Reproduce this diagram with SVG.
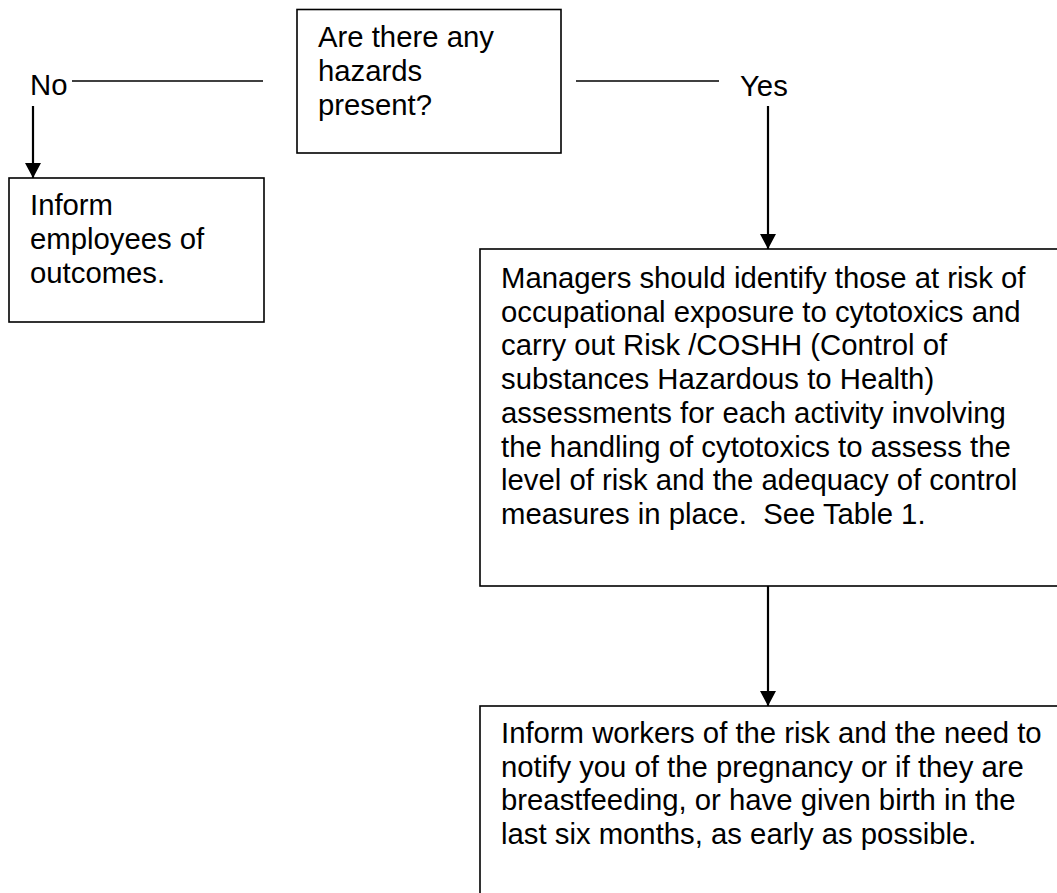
<svg xmlns="http://www.w3.org/2000/svg" width="1057" height="893" viewBox="0 0 1057 893">
<style>
.box{fill:#fff;stroke:#000;stroke-width:1.6}
.t{font-family:"Liberation Sans",Arial,sans-serif;font-size:29.3px;fill:#000}
.arrow{stroke:#000;stroke-width:2.2;fill:none;marker-end:url(#ah)}
.line{stroke:#000;stroke-width:1.4;fill:none}
</style>
<defs>
<marker id="ah" markerUnits="userSpaceOnUse" viewBox="0 0 15 16" refX="15" refY="8" markerWidth="15" markerHeight="16" orient="auto">
<path d="M0,0 L15,8 L0,16 z" fill="#000"/>
</marker>
</defs>
<rect width="1057" height="893" fill="#fff"/>
<g id="connectors">
<line class="line" x1="72" y1="81" x2="263" y2="81"/>
<line class="line" x1="576" y1="81" x2="719" y2="81"/>
<line class="arrow" x1="33" y1="106" x2="33" y2="178"/>
<line class="arrow" x1="768" y1="106" x2="768" y2="249"/>
<line class="arrow" x1="768" y1="586" x2="768" y2="706"/>
<text class="t" x="30" y="95">No</text>
<text class="t" x="740" y="96">Yes</text>
</g>
<g id="question">
<rect class="box" x="297" y="9.5" width="264" height="143.5"/>
<text class="t"><tspan x="318" y="47">Are there any</tspan><tspan x="318" y="81">hazards</tspan><tspan x="318" y="115">present?</tspan></text>
</g>
<g id="inform-employees">
<rect class="box" x="9" y="178" width="255" height="144"/>
<text class="t"><tspan x="30" y="215">Inform</tspan><tspan x="30" y="249">employees of</tspan><tspan x="30" y="283">outcomes.</tspan></text>
</g>
<g id="managers">
<rect class="box" x="480" y="249" width="590" height="337"/>
<text class="t" xml:space="preserve"><tspan x="501" y="288">Managers should identify those at risk of</tspan><tspan x="501" y="321.7">occupational exposure to cytotoxics and</tspan><tspan x="501" y="355.4">carry out Risk /COSHH (Control of</tspan><tspan x="501" y="389.1">substances Hazardous to Health)</tspan><tspan x="501" y="422.8">assessments for each activity involving</tspan><tspan x="501" y="456.5">the handling of cytotoxics to assess the</tspan><tspan x="501" y="490.2">level of risk and the adequacy of control</tspan><tspan x="501" y="524">measures in place.  See Table 1.</tspan></text>
</g>
<g id="inform-workers">
<rect class="box" x="480" y="706" width="590" height="200"/>
<text class="t"><tspan x="501" y="743">Inform workers of the risk and the need to</tspan><tspan x="501" y="776.5">notify you of the pregnancy or if they are</tspan><tspan x="501" y="810">breastfeeding, or have given birth in the</tspan><tspan x="501" y="843.5">last six months, as early as possible.</tspan></text>
</g>
</svg>
